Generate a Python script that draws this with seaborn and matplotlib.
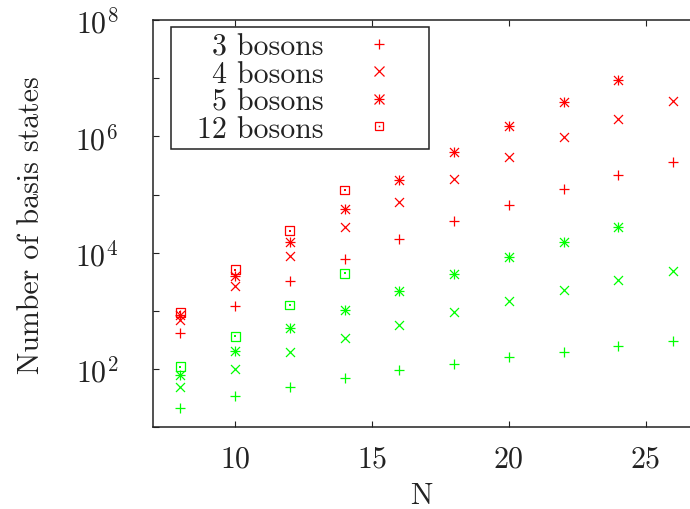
import numpy as np
import pandas as pd
import matplotlib
matplotlib.use("Agg")
import matplotlib.pyplot as plt
import seaborn as sns
from matplotlib.lines import Line2D
from matplotlib.patches import Rectangle
from matplotlib.legend_handler import HandlerTuple
from matplotlib.ticker import LogLocator, FuncFormatter, FixedLocator, NullLocator

# ---------------- data ----------------
N_all = [8, 10, 12, 14, 16, 18, 20, 22, 24, 26]
N_5 = [8, 10, 12, 14, 16, 18, 20, 22, 24]
N_12 = [8, 10, 12, 14]

red_3 = [412, 1230, 3240, 7850, 17300, 35600, 67000, 124000, 220000, 368000]
red_4 = [700, 2720, 8900, 27200, 74000, 182000, 437000, 960000, 2.0e6, 4.03e6]
red_5 = [860, 4040, 15600, 56000, 180000, 540000, 1.49e6, 3.87e6, 9.4e6]
red_12 = [950, 5130, 24000, 120000]

green_3 = [21.5, 34, 50, 69, 95, 122, 160, 198, 252, 303]
green_4 = [50, 100, 194, 342, 575, 950, 1480, 2300, 3400, 4900]
green_5 = [80, 202, 503, 1050, 2240, 4380, 8400, 15600, 27500]
green_12 = [110, 366, 1260, 4460]

labels = ["3 bosons", "4 bosons", "5 bosons", "12 bosons"]
x_ticks = [10, 15, 20, 25]

# ---------------- style ----------------
sns.set_style("ticks")
plt.rcParams["font.family"] = ["cmr10", "DejaVu Serif"]
plt.rcParams["mathtext.fontset"] = "cm"
plt.rcParams["axes.formatter.use_mathtext"] = True

RED = "#ff0000"
GREEN = "#00ff00"
INK = "#222222"
FS = 21.5
MS = 42       # scatter size (pt^2)
LW = 0.9

fig = plt.figure(figsize=(6.9, 5.1), dpi=100)
ax = fig.add_axes([153 / 690, (510 - 428.3) / 510, 1 - 153 / 690, (428.3 - 21) / 510])


def draw(xs, ys, color, marker):
    df = pd.DataFrame({"N": xs, "v": ys})
    if marker == "box":
        sns.scatterplot(data=df, x="N", y="v", marker="s", s=40, facecolors="none",
                        edgecolors=color, linewidths=LW, ax=ax, legend=False)
        sns.scatterplot(data=df, x="N", y="v", marker="s", s=1.2, color=color,
                        linewidth=0, ax=ax, legend=False)
    elif marker == "star":
        for m in ["+", "x"]:
            sns.scatterplot(data=df, x="N", y="v", marker=m, s=MS, color=color,
                            linewidth=LW, ax=ax, legend=False)
    else:
        sns.scatterplot(data=df, x="N", y="v", marker=marker, s=MS, color=color,
                        linewidth=LW, ax=ax, legend=False)


for col, series in [(GREEN, [(N_all, green_3, "+"), (N_all, green_4, "x"),
                             (N_5, green_5, "star"), (N_12, green_12, "box")]),
                    (RED, [(N_all, red_3, "+"), (N_all, red_4, "x"),
                           (N_5, red_5, "star"), (N_12, red_12, "box")])]:
    for xs, ys, mk in series:
        draw(xs, ys, col, mk)

ax.set_yscale("log")
ax.set_ylim(10, 1e8)
ax.set_xlim(7, 26.62)

ax.xaxis.set_major_locator(FixedLocator(x_ticks))
ax.xaxis.set_minor_locator(NullLocator())
ax.yaxis.set_major_locator(LogLocator(base=10, numticks=20))
ax.yaxis.set_minor_locator(NullLocator())


def yfmt(v, pos):
    e = int(round(np.log10(v)))
    return rf"$10^{{{e}}}$" if e % 2 == 0 else ""


ax.yaxis.set_major_formatter(FuncFormatter(yfmt))
ax.xaxis.set_major_formatter(FuncFormatter(lambda v, p: rf"$\mathdefault{{{int(v)}}}$"))

ax.tick_params(axis="both", which="major", direction="in", length=4, width=0.8,
               labelsize=FS, top=True, right=False, colors=INK, labelcolor=INK)
ax.tick_params(axis="y", pad=25)
ax.tick_params(axis="x", pad=13)

for s in ["left", "bottom", "top"]:
    ax.spines[s].set_linewidth(1.1)
    ax.spines[s].set_color(INK)
ax.spines["right"].set_visible(False)

ax.set_xlabel("N", fontsize=FS, color=INK, labelpad=6)
ax.set_ylabel("Number of basis states", fontsize=FS, color=INK, labelpad=22)

# ---------------- legend ----------------
kw = dict(ls="none", color=RED, markersize=6.5, mew=LW)
h3 = Line2D([], [], marker="+", **kw)
h4 = Line2D([], [], marker="x", **kw)
h5a = Line2D([], [], marker="+", **kw)
h5b = Line2D([], [], marker="x", **kw)
h12a = Line2D([], [], marker="s", mfc="none", mec=RED, ls="none", markersize=6.3, mew=LW)
h12b = Line2D([], [], marker="s", color=RED, ls="none", markersize=1.1, mew=0)

frame = Rectangle((171 / 690, 1 - 150 / 510), 258 / 690, 122.3 / 510,
                  transform=fig.transFigure, facecolor="white", edgecolor=INK,
                  linewidth=1.1, zorder=4)
ax.add_patch(frame)

leg = ax.legend([h3, h4, (h5a, h5b), (h12a, h12b)], labels,
                handler_map={tuple: HandlerTuple(ndivide=1)},
                loc="upper left", bbox_to_anchor=(197 / 690, 1 - 34 / 510),
                bbox_transform=fig.transFigure, borderaxespad=0, borderpad=0,
                markerfirst=False, frameon=False,
                prop={"family": "cmr10", "size": FS},
                handlelength=2.0, handletextpad=0.87, labelspacing=0.0)
leg.set_zorder(5)
for t in leg.get_texts():
    t.set_color(INK)

fig.savefig("out.png", dpi=100)
